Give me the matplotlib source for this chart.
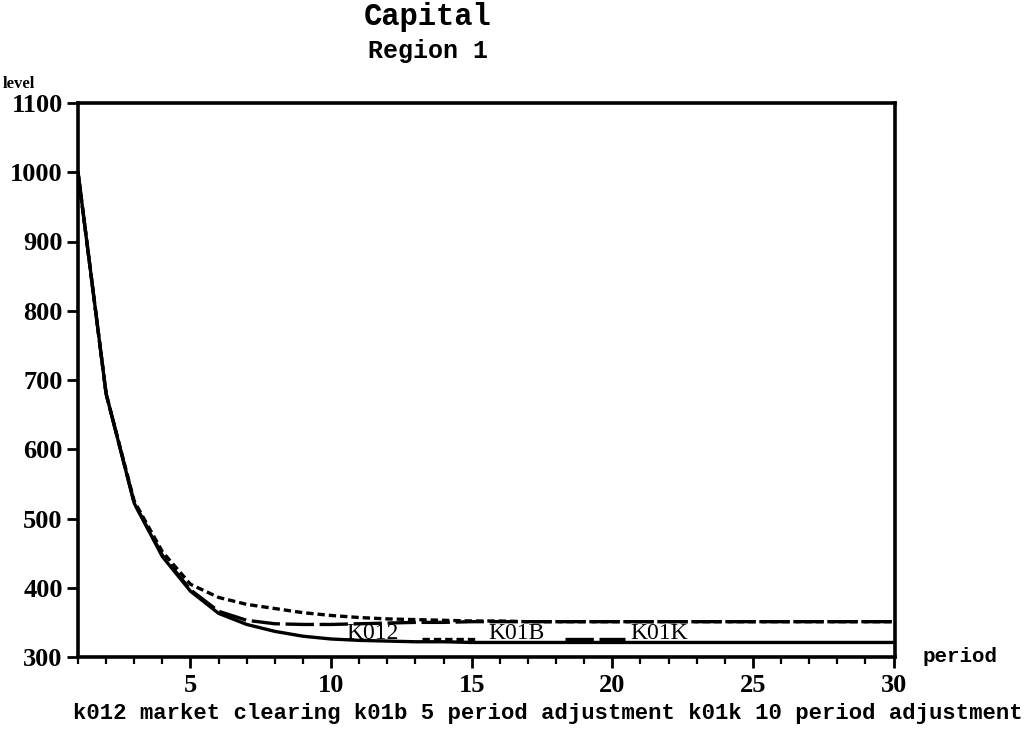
import matplotlib
matplotlib.use("Agg")
import matplotlib.pyplot as plt
from matplotlib.ticker import MultipleLocator

periods = list(range(1, 31))
k012 = [1000, 680, 522, 445, 395, 363, 347, 337, 330, 326, 324, 323, 322, 322, 321,
        321, 321, 321, 321, 321, 321, 321, 321, 321, 321, 321, 321, 321, 321, 321]
k01b = [1000, 680, 525, 452, 405, 386, 376, 370, 364, 360, 357, 355, 354, 353, 352,
        352, 351, 351, 351, 351, 351, 351, 351, 351, 351, 351, 351, 351, 351, 351]
k01k = [1000, 680, 522, 447, 397, 366, 353, 348, 347, 347, 348, 349, 350, 350, 351,
        351, 351, 351, 351, 351, 351, 351, 351, 351, 351, 351, 351, 351, 351, 351]
yticks = [300, 400, 500, 600, 700, 800, 900, 1000, 1100]
xticks = [5, 10, 15, 20, 25, 30]

W, H = 1036, 735
fig = plt.figure(figsize=(W / 100, H / 100), dpi=100)
L, R, T, B = 78, 895, 103, 657
ax = fig.add_axes([L / W, 1 - B / H, (R - L) / W, (B - T) / H])

lw = 2.4
dot = (2.2, 1.2)
dash = (8.5, 1.7)
ax.plot(periods, k012, color="black", lw=lw)
ax.plot(periods, k01b, color="black", lw=lw, dashes=dot)
ax.plot(periods, k01k, color="black", lw=lw, dashes=dash)

ax.set_xlim(1, 30.05)
ax.set_ylim(300, 1100)
ax.set_xticks(xticks)
ax.xaxis.set_minor_locator(MultipleLocator(1))
ax.set_yticks(yticks)

for s in ax.spines.values():
    s.set_linewidth(2.6)
ax.tick_params(axis="both", which="major", direction="out", width=2, length=8,
               labelsize=19)
ax.tick_params(axis="x", which="minor", direction="out", width=1.6, length=5)
ax.tick_params(axis="x", which="major", pad=4)
ax.tick_params(axis="y", pad=3)
for lab in ax.get_xticklabels() + ax.get_yticklabels():
    lab.set_fontfamily("Liberation Serif")
    lab.set_fontweight("bold")

# inline legend
lfont = dict(family="Liberation Serif", fontsize=17, va="center", ha="left")
ty = 0.0433
sy = 0.0325
ax.text(0.329, ty, "K012", transform=ax.transAxes, **lfont)
ax.plot([0.421, 0.486], [sy, sy], transform=ax.transAxes, color="black", lw=lw,
        dashes=dot, clip_on=False)
ax.text(0.502, ty, "K01B", transform=ax.transAxes, **lfont)
ax.plot([0.596, 0.670], [sy, sy], transform=ax.transAxes, color="black", lw=lw,
        dashes=dash, clip_on=False)
ax.text(0.676, ty, "K01K", transform=ax.transAxes, **lfont)

mono = dict(family="Liberation Mono", fontweight="bold")
fig.text(428 / W, 1 - 17 / H, "Capital", ha="center", va="center",
         fontsize=22, **mono)
fig.text(428 / W, 1 - 51 / H, "Region 1", ha="center", va="center",
         fontsize=18, **mono)
fig.text(3 / W, 1 - 84 / H, "level", ha="left", va="center",
         fontsize=12, family="Liberation Serif", fontweight="bold")
fig.text(922 / W, 1 - 656 / H, "period", ha="left", va="center",
         fontsize=15, **mono)
fig.text(548 / W, 1 - 713 / H,
         "k012 market clearing k01b 5 period adjustment k01k 10 period adjustment",
         ha="center", va="center", fontsize=16, **mono)

fig.savefig("out.png", dpi=100)
